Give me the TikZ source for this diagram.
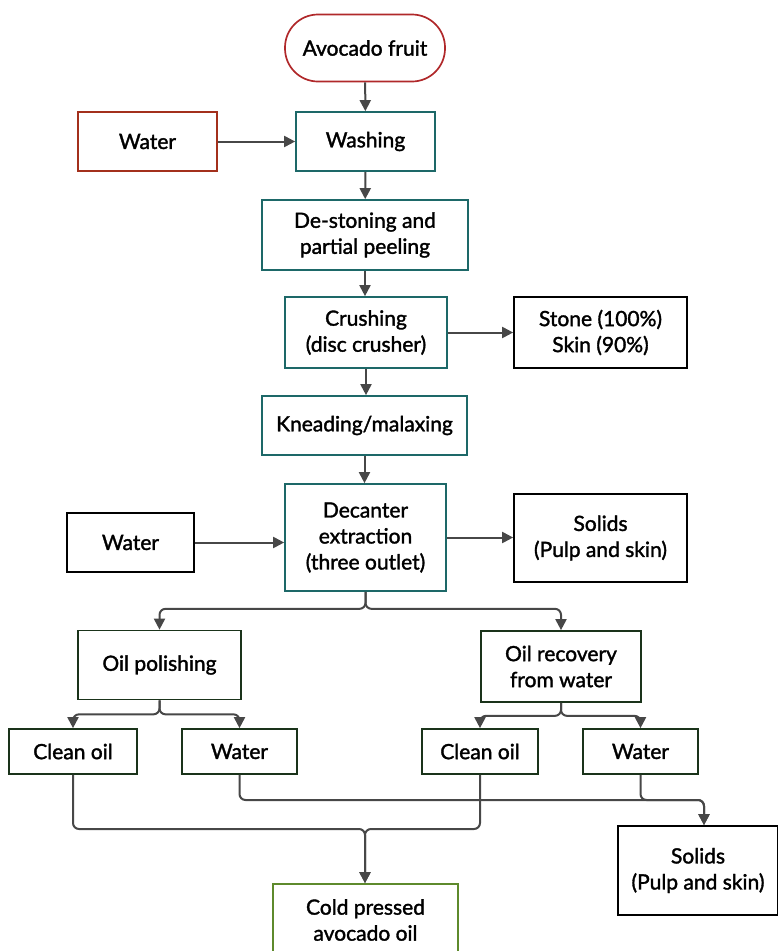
\documentclass[tikz,border=0pt]{standalone}
\usepackage{fontspec}
\setmainfont{Lato}
\newfontfamily\boxfont{Lato}[FakeBold=1.6]
\usetikzlibrary{arrows.meta}

\definecolor{fruitred}{HTML}{B0282A}
\definecolor{waterred}{HTML}{A3301C}
\definecolor{procteal}{HTML}{1D6868}
\definecolor{oilgreen}{HTML}{1A331A}
\definecolor{finalgreen}{HTML}{5E8A2C}
\definecolor{flowgray}{HTML}{474747}

\tikzset{
    box/.style={draw, rectangle, align=center, inner sep=2pt, line width=1.7pt,
        font=\boxfont\fontsize{21}{26}\selectfont},
    flow/.style={draw=flowgray, line width=2pt, rounded corners=6pt,
        -{Triangle[length=11pt, width=11pt]}}
}

\begin{document}
\begin{tikzpicture}[x=1pt, y=-1pt]

    \useasboundingbox (0,0) rectangle (778,951);

    % -- linea principale --
    \node[box, draw=fruitred, rounded corners=33pt, minimum width=160pt, minimum height=67pt] (fruit) at (365,48) {Avocado fruit};
    \node[box, draw=waterred, minimum width=139pt, minimum height=59pt] (water1) at (147.5,141.5) {Water};
    \node[box, draw=procteal, minimum width=139pt, minimum height=59pt] (washing) at (365.5,141.5) {Washing};
    \node[box, draw=procteal, minimum width=206pt, minimum height=70pt] (destone) at (365,235) {De-stoning and\\partial peeling};
    \node[box, draw=procteal, minimum width=162pt, minimum height=71pt] (crush) at (366,332.5) {Crushing\\(disc crusher)};
    \node[box, draw=black, minimum width=173pt, minimum height=71pt] (stone) at (600.5,332.5) {Stone (100\%)\\Skin (90\%)};
    \node[box, draw=procteal, minimum width=205pt, minimum height=59pt] (knead) at (364.5,425.5) {Kneading/malaxing};
    \node[box, draw=procteal, minimum width=161pt, minimum height=107pt] (decant) at (365.5,537.5) {Decanter\\extraction\\(three outlet)};
    \node[box, draw=black, minimum width=127pt, minimum height=59pt] (water2) at (130.5,542.5) {Water};
    \node[box, draw=black, minimum width=173pt, minimum height=88pt] (solids1) at (600.5,538) {Solids\\(Pulp and skin)};

    % -- separazione --
    \node[box, draw=oilgreen, minimum width=163pt, minimum height=69pt] (polish) at (159.5,665) {Oil polishing};
    \node[box, draw=oilgreen, minimum width=160pt, minimum height=71pt] (recover) at (561,666.5) {Oil recovery\\from water};
    \node[box, draw=oilgreen, minimum width=128pt, minimum height=45pt] (clean1) at (73,751.5) {Clean oil};
    \node[box, draw=oilgreen, minimum width=115pt, minimum height=45pt] (water3) at (239.5,751.5) {Water};
    \node[box, draw=oilgreen, minimum width=116pt, minimum height=45pt] (clean2) at (480,751.5) {Clean oil};
    \node[box, draw=oilgreen, minimum width=115pt, minimum height=45pt] (water4) at (640.5,751.5) {Water};
    \node[box, draw=black, minimum width=160pt, minimum height=89pt] (solids2) at (698,870.5) {Solids\\(Pulp and skin)};
    \node[box, draw=finalgreen, minimum width=185pt, minimum height=72pt] (cold) at (365.5,920) {Cold pressed\\avocado oil};

    \coordinate (oiljoin) at (365,829);
    \coordinate (waterjoin) at (704,800);

    % -- frecce --
    \draw[flow] (fruit) -- (washing);
    \draw[flow] (water1) -- (washing);
    \draw[flow] (washing) -- (destone);
    \draw[flow] (destone.south) -- (destone.south |- crush.north);
    \draw[flow] (crush) -- (stone);
    \draw[flow] (crush.south) -- (crush.south |- knead.north);
    \draw[flow] (knead.south) -- (knead.south |- decant.north);
    \draw[flow] (water2.east) -- (water2.east -| decant.west);
    \draw[flow] (decant.east) -- (decant.east -| solids1.west);

    \draw[flow] (decant.south) -- ++(0,17) -| (polish.north);
    \draw[flow] (decant.south) -- ++(0,17) -| (recover.north);
    \draw[flow] (polish.south) -- ++(0,14) -| (clean1.north);
    \draw[flow] (polish.south) -- ++(0,14) -| (water3.north);
    \draw[flow] (recover.south) -- ++(0,13) -| (clean2.north);
    \draw[flow] (recover.south) -- ++(0,13) -| (water4.north);

    \draw[flow] (clean1.south) |- (oiljoin) -- (oiljoin |- cold.north);
    \draw[flow] (clean2.south) |- (oiljoin) -- (oiljoin |- cold.north);
    \draw[flow] (water3.south) |- (waterjoin) -- (waterjoin |- solids2.north);
    \draw[flow] (water4.south) |- (waterjoin) -- (waterjoin |- solids2.north);

\end{tikzpicture}
\end{document}
